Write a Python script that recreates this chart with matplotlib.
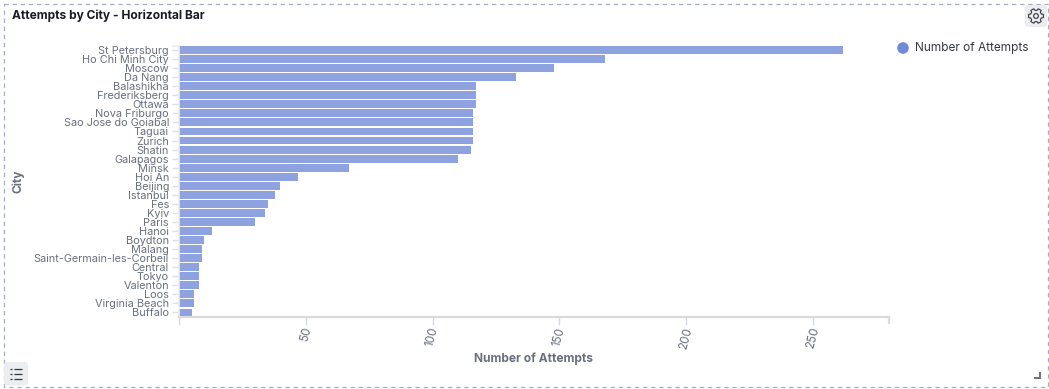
import math
import matplotlib
matplotlib.use("Agg")
import matplotlib.pyplot as plt
from matplotlib.patches import Rectangle, FancyBboxPatch, Circle, Polygon

plt.rcParams['font.family'] = ['Inter', 'DejaVu Sans']

cities = ["St Petersburg", "Ho Chi Minh City", "Moscow", "Da Nang", "Balashikha", "Frederiksberg",
          "Ottawa", "Nova Friburgo", "Sao Jose do Goiabal", "Taguai", "Zurich", "Shatin", "Galapagos",
          "Minsk", "Hoi An", "Beijing", "Istanbul", "Fes", "Kyiv", "Paris", "Hanoi", "Boydton", "Malang",
          "Saint-Germain-les-Corbeil", "Central", "Tokyo", "Valenton", "Loos", "Virginia Beach", "Buffalo"]
attempts = [262, 168, 148, 133, 117, 117, 117, 116, 116, 116, 116, 115, 110, 67, 47, 40, 38, 35, 34, 30,
            13, 10, 9, 9, 8, 8, 8, 6, 6, 5]
xticks = [0, 50, 100, 150, 200, 250]
xticklabels = ["", "50", "100", "150", "200", "250"]

W, H = 1049, 389
fig = plt.figure(figsize=(W / 100, H / 100), dpi=100, facecolor="white")

# chrome overlay in pixel coordinates
ov = fig.add_axes([0, 0, 1, 1], zorder=0)
ov.set_xlim(0, W); ov.set_ylim(H, 0); ov.axis("off")
ov.add_patch(Rectangle((3.5, 3.5), 1044.5, 383, fill=False, ec="#A5AEBE", lw=0.9, ls=(0, (3.5, 3))))
ov.text(12, 15.7, "Attempts by City - Horizontal Bar", fontsize=8.6, fontweight="bold", color="#1A1C21", va="center")
ov.add_patch(FancyBboxPatch((1025, 5), 22, 22, boxstyle="round,pad=0,rounding_size=3", fc="#EBEDF0", ec="none"))
gear = []
for i in range(6):
    a = math.radians(60 * i)
    for da, r in ((-20, 5.7), (-13, 7.6), (13, 7.6), (20, 5.7)):
        gear.append((1036 + r * math.cos(a + math.radians(da)), 16 + r * math.sin(a + math.radians(da))))
ov.add_patch(Polygon(gear, closed=True, fill=False, ec="#343741", lw=0.8))
ov.add_patch(Circle((1036, 16), 2.4, fill=False, ec="#343741", lw=0.8))
ov.add_patch(FancyBboxPatch((4, 362), 24, 23.5, boxstyle="round,pad=0,rounding_size=3", fc="#EBEDF0", ec="none"))
for yy in (369.3, 374, 378.7):
    ov.plot([14, 22], [yy, yy], color="#343741", lw=0.9, solid_capstyle="butt")
    ov.plot([10, 12], [yy, yy], color="#343741", lw=0.9, solid_capstyle="butt")
ov.plot([1035, 1040.3, 1040.3], [378.3, 378.3, 373], color="#69707D", lw=1.4, solid_joinstyle="miter")
ov.add_patch(Circle((903, 48), 5.8, fc="#6E8AD8", ec="none"))
ov.text(915, 48.4, "Number of Attempts", fontsize=8.5, color="#343741", va="center")

# plot area
L, R, T, B = 179, 889, 45.5, 317
ax = fig.add_axes([L / W, 1 - B / H, (R - L) / W, (B - T) / H], zorder=1)
ax.patch.set_alpha(0)
pos = list(range(len(cities)))
ax.barh(pos, attempts, height=0.87, color="#8DA2DE", edgecolor="none")
ax.set_xlim(0, 280)
ax.set_ylim(len(cities) - 0.5, -0.5)
ax.set_yticks(pos, cities)
ax.set_xticks(xticks, xticklabels)
ax.tick_params(axis="y", length=5, width=1, color="#E0E0E0", labelsize=7.85, labelcolor="#69707D", pad=2.2)
ax.tick_params(axis="x", length=6, width=1, color="#D3DAE6", labelsize=8.4, labelcolor="#69707D", pad=0.5)
for t in ax.get_xticklabels():
    t.set_rotation(75); t.set_ha("center"); t.set_va("top")
for s in ("top", "right"):
    ax.spines[s].set_visible(False)
ax.spines["left"].set_color("#EDEDED"); ax.spines["left"].set_linewidth(1.2)
ax.spines["bottom"].set_color("#DADADA"); ax.spines["bottom"].set_linewidth(1.6)
ov.plot([889, 889], [317, 323], color="#DADADA", lw=1.6)
ov.plot([173, 179], [45.5, 45.5], color="#EDEDED", lw=1.2)

ov.text(533.5, 358.3, "Number of Attempts", fontsize=8.6, fontweight="bold", color="#69707D", ha="center", va="center")
ov.text(18, 181, "City", fontsize=8.6, fontweight="bold", color="#69707D", ha="center", va="center", rotation=90)

fig.savefig("out.png", dpi=100, facecolor="white")
